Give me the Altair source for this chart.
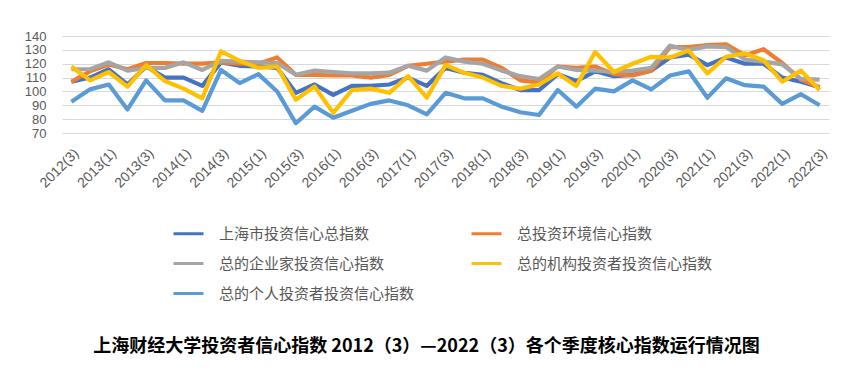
import altair as alt
import pandas as pd

quarters = []
for y in range(2012, 2023):
    for q in range(1, 5):
        if (y == 2012 and q < 3) or (y == 2022 and q > 3):
            continue
        quarters.append(f"{y}({q})")

tick_labels = quarters[::2]

series_names = [
    "上海市投资信心总指数",
    "总投资环境信心指数",
    "总的企业家投资信心指数",
    "总的机构投资者投资信心指数",
    "总的个人投资者投资信心指数",
]
series_colors = ["#4472C4", "#ED7D31", "#A5A5A5", "#FFC000", "#5B9BD5"]

total_index = [107, 110, 116, 105, 118, 110, 110, 104, 121, 118.5, 118, 117, 99, 105, 97.5,
               104, 104, 105, 110, 104, 117, 113.5, 112, 106, 101, 101, 112.5, 107.5, 114.5,
               111, 112, 115, 124.5, 126.5, 119, 124.5, 120, 120, 110, 107, 103]
environment_index = [107, 114.5, 119.5, 116, 120.5, 120.5, 120, 120, 121, 120, 120, 124.5, 112,
                     112, 111.5, 111.5, 110, 112, 118.5, 120, 121.5, 123, 123, 117, 108, 106.5,
                     118, 117, 118, 112.5, 111.5, 115, 132, 132, 133.5, 134, 126, 130.5, 120.5,
                     108.5, 103]
entrepreneur_index = [116, 116, 121, 115, 117, 117, 121, 115.5, 122, 121.5, 121, 120.5, 112, 115,
                      114, 113, 113, 113.5, 118.5, 115, 124.5, 121.5, 120, 115, 111, 109, 118,
                      115.5, 115, 114, 115, 117, 133, 130, 132.5, 132, 123, 121.5, 119.5, 109,
                      108.5]
institution_index = [118, 108, 114, 103.5, 119, 107.5, 102, 95, 129, 122, 117, 118, 94, 103.5,
                     84.5, 101, 102, 99, 111, 95.5, 119, 113.5, 110, 104, 102, 105, 113, 104,
                     128.5, 114, 120, 125, 124.5, 129.5, 113, 125, 127.5, 122.5, 107, 115, 101]
individual_index = [92.5, 101.5, 105, 87, 108, 93.5, 93.5, 86, 115.5, 106, 112.5, 100, 77, 89,
                    81, 86, 91, 93.5, 90, 83.5, 99, 95, 95, 89, 85, 83, 101, 89, 102, 100, 108,
                    101.5, 111.5, 114.5, 95.5, 109.5, 104.5, 103.5, 91, 98, 90]

y_ticks = [70, 80, 90, 100, 110, 120, 130, 140]

all_series = [total_index, environment_index, entrepreneur_index, institution_index, individual_index]
rows = []
for si, (name, vals) in enumerate(zip(series_names, all_series)):
    for qi, (q, v) in enumerate(zip(quarters, vals)):
        rows.append({"quarter": q, "series": name, "value": v, "s": si})
df = pd.DataFrame(rows)

title_text = "上海财经大学投资者信心指数 2012（3）—2022（3）各个季度核心指数运行情况图"

lines = alt.Chart(df).mark_line(strokeWidth=4.2, strokeJoin="round").encode(
    x=alt.X("quarter:N", sort=quarters, title=None,
            axis=alt.Axis(values=tick_labels, labelAngle=-45, labelFontSize=14,
                          labelColor="#595959", ticks=False, domain=False, grid=False,
                          labelPadding=13, labelFont="Liberation Sans", labelOverlap=False)),
    y=alt.Y("value:Q", title=None, scale=alt.Scale(domain=[70, 140], zero=False, nice=False),
            axis=alt.Axis(values=y_ticks, labelFontSize=13, labelColor="#595959", ticks=False,
                          domain=False, gridColor="#D9D9D9", gridWidth=1, labelPadding=16,
                          labelFont="Liberation Sans", labelOverlap=False)),
    color=alt.Color("series:N", sort=series_names,
                    scale=alt.Scale(domain=series_names, range=series_colors),
                    legend=alt.Legend(title=None, orient="none", legendX=110, legendY=181,
                                      direction="horizontal",
                                      columns=2, columnPadding=50, rowPadding=5,
                                      symbolType="stroke", symbolSize=900,
                                      symbolStrokeWidth=3, labelFontSize=15,
                                      labelColor="#595959", labelOffset=14, labelLimit=400,
                                      labelFont="Noto Sans CJK SC", padding=0)),
    order=alt.Order("s:Q"),
)

title = alt.Chart(pd.DataFrame({"t": [title_text]})).mark_text(
    fontSize=18, fontWeight="bold", color="#000000", font="Noto Sans CJK SC",
    align="center", baseline="middle",
).encode(
    text="t:N",
    x=alt.value(767 / 2 - 19),
    y=alt.value(311),
)

chart = alt.layer(lines, title).properties(
    width=767,
    height=97,
    autosize=alt.AutoSizeParams(type="none"),
    padding={"left": 54, "top": 28, "right": 18, "bottom": 232},
).configure_view(stroke=None)

chart.save("out.html", embed_options={"renderer": "svg", "actions": False})
